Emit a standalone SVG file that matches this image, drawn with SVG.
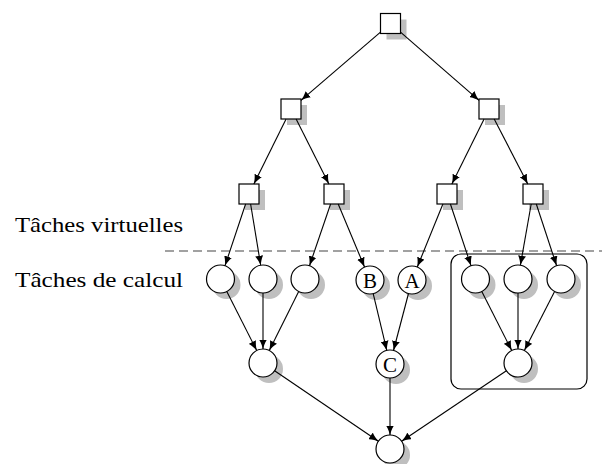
<svg xmlns="http://www.w3.org/2000/svg" width="609" height="464" viewBox="0 0 609 464">
<style>
.sq{fill:#fff;stroke:#000;stroke-width:1.2}
.ci{fill:#fff;stroke:#000;stroke-width:1.2}
.sh{fill:#bfbfbf;stroke:none}
.lbl{font-family:"Liberation Serif","DejaVu Serif",serif;font-size:22px;fill:#000}
.in{font-family:"Liberation Serif","DejaVu Serif",serif;font-size:21px;fill:#000;text-anchor:middle}
#edges line{stroke:#000;stroke-width:1.1;marker-end:url(#ah)}
</style>
<defs>
<marker id="ah" viewBox="0 0 10 8" markerWidth="10" markerHeight="8" refX="9.5" refY="4" orient="auto" markerUnits="userSpaceOnUse">
<path d="M10,4 C7,4.6 3,6 0,8 L0,0 C3,2 7,3.4 10,4 Z" fill="#000"/>
</marker>
</defs>
<rect width="609" height="464" fill="#fff"/>
<text class="lbl" x="183" y="231.5" text-anchor="end" textLength="168" lengthAdjust="spacingAndGlyphs">Tâches virtuelles</text>
<text class="lbl" x="183" y="286.5" text-anchor="end" textLength="168" lengthAdjust="spacingAndGlyphs">Tâches de calcul</text>
<line x1="165" y1="251" x2="602" y2="251" stroke="#444" stroke-width="1.2" stroke-dasharray="9 5"/>
<rect id="group" x="451" y="254" width="136" height="135" rx="10" ry="10" fill="none" stroke="#000" stroke-width="1.2"/>
<g id="t0"><rect class="sh" x="386.5" y="19.5" width="20" height="20"/><rect class="sq" x="380.5" y="13.5" width="20" height="20"/></g>
<g id="t1"><rect class="sh" x="287" y="105" width="20" height="20"/><rect class="sq" x="281" y="99" width="20" height="20"/></g>
<g id="t2"><rect class="sh" x="485" y="105" width="20" height="20"/><rect class="sq" x="479" y="99" width="20" height="20"/></g>
<g id="t3"><rect class="sh" x="245" y="190" width="20" height="20"/><rect class="sq" x="239" y="184" width="20" height="20"/></g>
<g id="t4"><rect class="sh" x="330" y="190" width="20" height="20"/><rect class="sq" x="324" y="184" width="20" height="20"/></g>
<g id="t5"><rect class="sh" x="443" y="190" width="20" height="20"/><rect class="sq" x="437" y="184" width="20" height="20"/></g>
<g id="t6"><rect class="sh" x="529" y="190" width="20" height="20"/><rect class="sq" x="523" y="184" width="20" height="20"/></g>
<g id="c1"><circle class="sh" cx="226.5" cy="285" r="14"/><circle class="ci" cx="220.5" cy="279" r="14"/></g>
<g id="c2"><circle class="sh" cx="269" cy="285" r="14"/><circle class="ci" cx="263" cy="279" r="14"/></g>
<g id="c3"><circle class="sh" cx="311" cy="285" r="14"/><circle class="ci" cx="305" cy="279" r="14"/></g>
<g id="cB"><circle class="sh" cx="376" cy="286" r="14"/><circle class="ci" cx="370" cy="280" r="14"/><text class="in" x="370" y="287.5">B</text></g>
<g id="cA"><circle class="sh" cx="418" cy="286" r="14"/><circle class="ci" cx="412" cy="280" r="14"/><text class="in" x="412" y="287.5">A</text></g>
<g id="c6"><circle class="sh" cx="481.5" cy="285" r="14"/><circle class="ci" cx="475.5" cy="279" r="14"/></g>
<g id="c7"><circle class="sh" cx="524" cy="285" r="14"/><circle class="ci" cx="518" cy="279" r="14"/></g>
<g id="c8"><circle class="sh" cx="567" cy="285" r="14"/><circle class="ci" cx="561" cy="279" r="14"/></g>
<g id="cD"><circle class="sh" cx="269" cy="369" r="14"/><circle class="ci" cx="263" cy="363" r="14"/></g>
<g id="cC"><circle class="sh" cx="396" cy="370" r="14"/><circle class="ci" cx="390" cy="364" r="14"/><text class="in" x="390" y="371.5">C</text></g>
<g id="cE"><circle class="sh" cx="524" cy="369" r="14"/><circle class="ci" cx="518" cy="363" r="14"/></g>
<g id="cF"><circle class="sh" cx="396" cy="455" r="14"/><circle class="ci" cx="390" cy="449" r="14"/></g>
<g id="edges">
<line x1="380.5" y1="32.1" x2="301" y2="100.4"/>
<line x1="400.5" y1="32.2" x2="479" y2="100.3"/>
<line x1="286.1" y1="119" x2="253.9" y2="184"/>
<line x1="296.1" y1="119" x2="328.9" y2="184"/>
<line x1="484.1" y1="119" x2="451.9" y2="184"/>
<line x1="494.2" y1="119" x2="527.8" y2="184"/>
<line x1="245.6" y1="204" x2="225" y2="265.7"/>
<line x1="250.6" y1="204" x2="260.7" y2="265.2"/>
<line x1="330.6" y1="204" x2="309.5" y2="265.7"/>
<line x1="338.2" y1="204" x2="364.5" y2="267"/>
<line x1="442.9" y1="204" x2="417.3" y2="267"/>
<line x1="450.4" y1="204" x2="471" y2="265.7"/>
<line x1="531.2" y1="204" x2="520.4" y2="265.2"/>
<line x1="536.3" y1="204" x2="556.6" y2="265.7"/>
<line x1="226.8" y1="291.5" x2="256.7" y2="350.5"/>
<line x1="263" y1="293" x2="263" y2="349"/>
<line x1="298.7" y1="291.5" x2="269.3" y2="350.5"/>
<line x1="373.2" y1="293.6" x2="386.8" y2="350.4"/>
<line x1="408.5" y1="293.5" x2="393.5" y2="350.5"/>
<line x1="481.8" y1="291.5" x2="511.7" y2="350.5"/>
<line x1="518" y1="293" x2="518" y2="349"/>
<line x1="554.6" y1="291.5" x2="524.4" y2="350.5"/>
<line x1="274.6" y1="370.8" x2="378.4" y2="441.2"/>
<line x1="390" y1="378" x2="390" y2="435"/>
<line x1="506.4" y1="370.8" x2="401.6" y2="441.2"/>
</g>
</svg>
